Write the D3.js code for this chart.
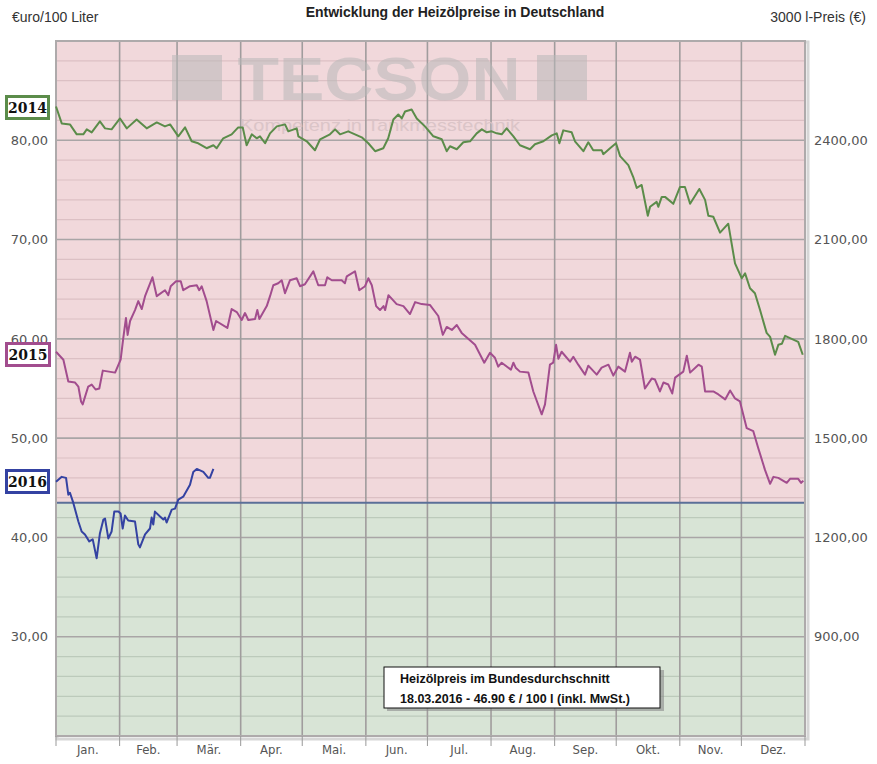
<!DOCTYPE html>
<html><head><meta charset="utf-8">
<script src="https://cdn.jsdelivr.net/npm/d3@7"></script>
<style>
html,body{margin:0;padding:0;background:#fff;}
svg{display:block;}
</style></head>
<body>
<svg id="c" width="877" height="764"></svg>
<script>
// ---- data (day of year, €/100 l) ----
const months = ["Jan.","Feb.","Mär.","Apr.","Mai.","Jun.","Jul.","Aug.","Sep.","Okt.","Nov.","Dez."];
const monthStarts = [0,31,59,90,120,151,181,212,243,273,304,334,365];
const leftTicks = [30,40,50,60,70,80];
const threshold = 43.5;

const s2014 = [[0,83.4],[2.8,81.7],[6.8,81.6],[10.1,80.6],[13.3,80.6],[15,81.1],[17.4,80.8],[21.4,81.9],[23.9,81.2],[27.1,81.1],[31.2,82.2],[34.5,81.2],[39.3,82.1],[44.2,81.2],[49.1,81.8],[53.1,81.4],[55.6,81.6],[59.6,80.4],[62.9,81.3],[66.1,79.9],[69.3,79.7],[73.4,79.2],[76.7,79.5],[78.3,79.2],[81.5,80.2],[85.6,80.6],[88.8,81.3],[91,81.3],[92.9,79.5],[95.4,80.6],[97.8,80.2],[99.4,80.4],[101.9,79.7],[104.3,80.7],[107.6,81.4],[111.6,81.6],[113.2,80.9],[117.3,81.2],[118.1,80.4],[122.2,79.9],[126.2,79.0],[128.7,80.1],[133.5,80.6],[136,81.1],[138.4,80.6],[142.4,80.9],[149,80.3],[152.2,79.7],[155.5,78.9],[159.5,79.2],[161.9,80.2],[164.4,82.1],[166.8,82.6],[168.5,82.2],[170.1,82.9],[173.3,83.1],[175.8,82.2],[179.8,81.4],[183.9,80.4],[188,80.1],[190.4,78.9],[192,79.4],[195.3,79.1],[198.5,79.8],[201.8,79.9],[205,80.7],[207.5,81.1],[209.9,80.8],[212.3,80.9],[214.8,80.7],[217.2,80.6],[219.6,81.2],[222.9,80.4],[226.1,79.5],[231,79.1],[233.4,79.6],[237.5,79.9],[241.6,80.5],[244,80.7],[245.3,79.7],[247.2,81.0],[251.3,80.8],[252.9,79.9],[257,78.9],[259.4,79.8],[261.8,79.0],[265.9,79.0],[266.7,78.6],[270,79.2],[272.9,79.7],[274.9,78.4],[278.9,77.5],[281.3,76.3],[283,75.2],[285.4,75.5],[288.4,72.4],[289.5,73.3],[292.7,73.8],[293.5,73.3],[295.2,74.3],[296.8,74.3],[300.8,73.6],[304.1,75.3],[306.5,75.3],[309,73.6],[313.5,75.1],[316.3,74.0],[317.9,72.4],[320.3,72.3],[323.6,70.7],[327.6,71.6],[330.9,67.6],[334.2,66.1],[335.8,66.6],[338.2,65.1],[340.6,64.6],[343.1,62.9],[346.3,60.6],[348,60.2],[350.4,58.4],[352,59.4],[353.7,59.5],[355.3,60.3],[361.7,59.7],[363.9,58.4]];

const s2015 = [[0,58.7],[3.6,57.9],[6,55.7],[9.3,55.6],[10.9,55.2],[12.2,53.7],[13,53.4],[15.7,55.2],[17.4,55.4],[19.3,54.9],[21.1,55.0],[22.8,56.8],[28.8,56.6],[31.5,57.9],[32.8,60.1],[34.1,62.1],[34.9,60.4],[36.1,61.8],[38.5,62.9],[40.1,63.8],[41.8,63.0],[43.4,64.3],[47,66.2],[49.1,64.3],[53.1,64.9],[54.7,64.4],[55.9,65.3],[58.5,65.8],[60.8,65.8],[62,64.9],[65.3,65.3],[68.6,65.4],[69.8,64.9],[71,65.3],[73.4,63.8],[76.7,60.9],[78,61.8],[83.5,61.1],[85.6,63.0],[88.1,62.7],[90.5,61.9],[92.1,62.6],[93.7,61.9],[97,62.0],[98.1,62.9],[99.1,62.0],[102.7,63.3],[104.3,64.3],[105.9,65.4],[108.3,65.6],[110,65.9],[111.6,64.6],[114,65.9],[117.3,66.1],[118.9,65.3],[121.3,65.5],[125.4,66.8],[127.8,65.4],[131.1,65.4],[132.2,66.2],[134.4,65.9],[139.2,65.9],[140.8,65.6],[141.7,66.3],[145.7,66.8],[147.8,64.9],[150.6,65.3],[152.2,66.1],[153.9,65.4],[156,63.3],[157.9,62.9],[159.6,63.3],[160.4,62.9],[162,64.4],[166,63.5],[169.3,63.3],[172.5,62.5],[175,63.7],[178.2,63.5],[182.3,63.4],[186.3,62.3],[188.5,60.4],[190.4,61.2],[192.9,60.9],[195.3,61.4],[197.7,60.6],[204.2,59.4],[208.7,57.6],[211.5,58.6],[213.9,58.1],[215.5,57.2],[217.2,57.6],[221.7,56.9],[222.9,57.6],[224,57.1],[226.1,56.7],[230.2,56.6],[232.6,54.7],[236.7,52.4],[238.3,53.4],[240.7,57.4],[242.3,57.6],[243.7,59.4],[244.8,58.0],[246.4,58.7],[250.5,57.7],[252.1,58.2],[254.5,57.4],[257.8,56.4],[259.4,57.3],[263.5,56.4],[265.9,57.1],[269.2,57.4],[271.6,56.3],[274,57.2],[277.3,56.7],[279.7,58.6],[280.6,57.7],[282.2,58.2],[284.6,57.9],[287,55.0],[290.3,56.0],[291.9,55.9],[294.3,54.7],[296,55.6],[298.4,55.4],[300.3,54.5],[301.7,56.1],[305.7,56.7],[307.4,58.3],[309,56.6],[313.1,57.4],[314.7,57.2],[316.3,54.7],[320.3,54.7],[322.8,54.4],[326.1,53.9],[328.5,54.8],[330.9,54.0],[333.3,53.7],[336.6,51.0],[339.8,50.7],[342.2,49.0],[345.5,46.8],[348,45.4],[349.6,46.1],[352,46.0],[356.1,45.5],[357.7,45.9],[361.7,45.9],[363.1,45.5],[364.2,45.7]];

const s2016 = [[0,45.6],[2.8,46.1],[4.9,46.0],[6,44.3],[6.8,44.5],[8.4,43.5],[10.9,41.6],[12.5,40.6],[14.1,40.3],[16.2,39.6],[17.9,39.8],[19.8,37.9],[21.4,40.4],[23.1,41.8],[23.9,41.9],[25.5,39.9],[27.1,40.6],[28.4,42.6],[30.4,42.6],[31.5,42.4],[32.5,40.9],[33.6,42.2],[35.2,41.7],[38.5,41.6],[40.1,39.3],[40.9,39.0],[43.4,40.3],[45.8,40.9],[46.6,42.0],[47.4,41.3],[48.2,42.6],[50.7,42.1],[52.3,41.8],[53.1,42.0],[53.9,41.5],[56.4,42.8],[58,42.9],[59.6,43.8],[62,44.1],[65.3,45.3],[66.9,46.6],[68.6,46.9],[71.8,46.6],[74.2,46.0],[75,46.0],[76.7,46.9]];

const series = [
  {name:"2014", data:s2014, color:"#5b8c4a", box:[5,95,45,25]},
  {name:"2015", data:s2015, color:"#a24d8e", box:[5,342,46,25]},
  {name:"2016", data:s2016, color:"#3442a2", box:[5,469,45,25]}
];

// ---- chart ----
const svg = d3.select("#c");
const L=56, R=805, T=41, B=736;
const x = d3.scaleLinear().domain([0,365]).range([L,R]);
const y = d3.scaleLinear().domain([20,90]).range([B,T]);

// frame shadow
svg.append("rect").attr("x",L+1).attr("y",T+1).attr("width",R-L+2).attr("height",B-T+2)
  .attr("fill","none").attr("stroke","#d6d6d6").attr("stroke-width",3);

// backgrounds
svg.append("rect").attr("x",L).attr("y",T).attr("width",R-L).attr("height",y(threshold)-T).attr("fill","#f1d8db");
svg.append("rect").attr("x",L).attr("y",y(threshold)).attr("width",R-L).attr("height",B-y(threshold)).attr("fill","#d8e4d6");

// minor horizontal grid every 2
const g = svg.append("g");
d3.range(22,90,2).forEach(v=>{
  const major = v%10===0;
  g.append("line").attr("x1",L).attr("x2",R).attr("y1",y(v)).attr("y2",y(v))
   .attr("stroke", major?"#a9a5a6":(v>threshold?"#dcc0c4":"#bccabb"))
   .attr("stroke-width", major?1.6:1.2);
});
// vertical month lines
monthStarts.slice(1,-1).forEach(d=>{
  g.append("line").attr("x1",x(d)).attr("x2",x(d)).attr("y1",T).attr("y2",B)
   .attr("stroke","#a09c9d").attr("stroke-width",1.6);
});

// watermark
const wm = svg.append("g").attr("opacity",0.55);
wm.append("rect").attr("x",172).attr("y",55).attr("width",50).attr("height",45).attr("fill","#b9b9b9");
wm.append("rect").attr("x",537).attr("y",55).attr("width",50).attr("height",45).attr("fill","#b9b9b9");
wm.append("text").attr("x",379).attr("y",100).attr("text-anchor","middle")
  .attr("font-family","Liberation Sans, Arial, sans-serif").attr("font-weight","bold")
  .attr("font-size",62).attr("textLength",283).attr("lengthAdjust","spacingAndGlyphs")
  .attr("fill","#b9b9b9").text("TECSON");
svg.append("text").attr("x",380).attr("y",131).attr("text-anchor","middle")
  .attr("font-family","Liberation Sans, Arial, sans-serif").attr("font-size",17)
  .attr("textLength",280).attr("lengthAdjust","spacingAndGlyphs")
  .attr("fill","#d9c3c6").attr("opacity",0.9).text("Kompetenz in Tankmesstechnik");

// threshold line
svg.append("line").attr("x1",L).attr("x2",R).attr("y1",y(threshold)).attr("y2",y(threshold))
  .attr("stroke","#5b6f98").attr("stroke-width",2);

// frame
svg.append("rect").attr("x",L).attr("y",T).attr("width",R-L).attr("height",B-T)
  .attr("fill","none").attr("stroke","#aeaaab").attr("stroke-width",2);

// lines
const line = d3.line().x(d=>x(d[0])).y(d=>y(d[1]));
series.forEach(s=>{
  svg.append("path").datum(s.data).attr("d",line).attr("fill","none")
    .attr("stroke",s.color).attr("stroke-width",2).attr("stroke-linejoin","round");
});

// left axis
const fmt = v => d3.format(".2f")(v).replace(".",",");
const la = svg.append("g").attr("transform",`translate(${L-6},0)`)
  .call(d3.axisLeft(y).tickValues(leftTicks).tickSize(0).tickFormat(fmt));
la.select(".domain").remove();
la.selectAll("text").attr("font-family","DejaVu Sans, Verdana, sans-serif").attr("font-size",13).attr("fill","#555").attr("dx",1);

// right axis
const ra = svg.append("g").attr("transform",`translate(${R+6},0)`)
  .call(d3.axisRight(y).tickValues(leftTicks).tickSize(0).tickFormat(v=>fmt(v*30)));
ra.select(".domain").remove();
ra.selectAll("text").attr("font-family","DejaVu Sans, Verdana, sans-serif").attr("font-size",13).attr("fill","#555");

// month ticks & labels
monthStarts.forEach(d=>{
  svg.append("line").attr("x1",x(d)).attr("x2",x(d)).attr("y1",B).attr("y2",B+10)
    .attr("stroke","#999").attr("stroke-width",1);
});
months.forEach((m,i)=>{
  svg.append("text").attr("x",(x(monthStarts[i])+x(monthStarts[i+1]))/2).attr("y",754)
    .attr("text-anchor","middle").attr("font-family","DejaVu Sans Condensed, Liberation Sans Narrow, sans-serif")
    .attr("font-stretch","condensed").attr("font-size",13).attr("fill","#555").text(m);
});

// year boxes
series.forEach(s=>{
  const [bx,by,bw,bh]=s.box;
  svg.append("rect").attr("x",bx+1.5).attr("y",by+1.5).attr("width",bw-3).attr("height",bh-3)
    .attr("fill","#fff").attr("stroke",s.color).attr("stroke-width",3);
  svg.append("text").attr("x",bx+bw/2).attr("y",by+bh/2+5).attr("text-anchor","middle")
    .attr("font-family","DejaVu Serif, serif").attr("font-weight","bold").attr("font-size",14)
    .attr("fill","#111").text(s.name);
});

// headers
svg.append("text").attr("x",12).attr("y",22).attr("font-family","Liberation Sans, Arial, sans-serif")
  .attr("font-size",14).attr("fill","#333").text("€uro/100 Liter");
svg.append("text").attr("x",866).attr("y",22).attr("text-anchor","end").attr("font-family","Liberation Sans, Arial, sans-serif")
  .attr("font-size",14).attr("fill","#333").text("3000 l-Preis (€)");
svg.append("text").attr("x",455).attr("y",17).attr("text-anchor","middle").attr("font-family","Liberation Sans, Arial, sans-serif")
  .attr("font-weight","bold").attr("font-size",14).attr("fill","#222").text("Entwicklung der Heizölpreise in Deutschland");

// info box
svg.append("rect").attr("x",387).attr("y",670).attr("width",277).attr("height",41).attr("fill","#8a8a8a").attr("opacity",0.6);
svg.append("rect").attr("x",384).attr("y",667).attr("width",276).attr("height",41).attr("fill","#fff").attr("stroke","#111").attr("stroke-width",1);
svg.append("text").attr("x",400).attr("y",683).attr("font-family","Liberation Sans, Arial, sans-serif")
  .attr("font-weight","bold").attr("font-size",12.5).attr("fill","#111").text("Heizölpreis im Bundesdurchschnitt");
svg.append("text").attr("x",400).attr("y",703).attr("font-family","Liberation Sans, Arial, sans-serif")
  .attr("font-weight","bold").attr("font-size",12.5).attr("fill","#111").text("18.03.2016 - 46.90 € / 100 l (inkl. MwSt.)");
</script>
</body></html>
